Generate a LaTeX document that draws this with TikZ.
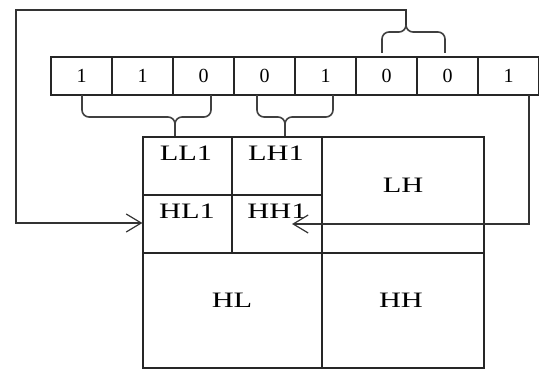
\documentclass[tikz,border=0pt]{standalone}
\usepackage{fontspec}
\setmainfont{Liberation Serif}
\newfontfamily\lblfont[FakeStretch=1.38]{Liberation Serif}
\usetikzlibrary{arrows.meta}
\tikzset{
  ln/.style={line width=1.2pt, draw=black!80},
  brc/.style={line width=1.6pt, draw=black!75},
  cellbox/.style={rectangle, draw=black!85, line width=1.2pt, inner sep=0pt},
  bitbox/.style={cellbox, minimum width=61pt, minimum height=38pt,
    font=\fontsize{20}{20}\selectfont},
  lbl/.style={inner sep=0pt, font=\lblfont\fontsize{22}{22}\selectfont},
  barb/.style={-{Straight Barb[length=15pt,width=18pt,line width=1.2pt]}},
}
\begin{document}
\begin{tikzpicture}[x=1pt,y=-1pt]
\useasboundingbox (0,0) rectangle (539,369);
% bit row
\foreach \v [count=\i] in {1,1,0,0,1,0,0,1}{
  \node[bitbox] (b\i) at (51+61*\i-30.5,76) {\v};
}
% grid cells
\node[cellbox, minimum width=89pt, minimum height=58pt] (ll1) at (187.5,166) {};
\node[cellbox, minimum width=90pt, minimum height=58pt] (lh1) at (277,166) {};
\node[cellbox, minimum width=89pt, minimum height=58pt] (hl1) at (187.5,224) {};
\node[cellbox, minimum width=90pt, minimum height=58pt] (hh1) at (277,224) {};
\node[cellbox, minimum width=162pt, minimum height=116pt] (lh) at (403,195) {};
\node[cellbox, minimum width=179pt, minimum height=115pt] (hl) at (232.5,310.5) {};
\node[cellbox, minimum width=162pt, minimum height=115pt] (hh) at (403,310.5) {};
% labels
\node[lbl] (tll1) at (186,153) {LL1};
\node[lbl] (tlh1) at (276,153) {LH1};
\node[lbl] (thl1) at (187,211) {HL1};
\node[lbl] (thh1) at (277,211) {HH1};
\node[lbl] (tlh) at (403,185) {LH};
\node[lbl] (thl) at (232,300) {HL};
\node[lbl] (thh) at (401,300) {HH};
% lower brace 1 (bits 1-3 -> LL1)
\coordinate (c1) at (175,124);
\draw[brc] (82,95) -- (82,110) to[out=-90,in=180] (89,117) -- (168,117) to[out=0,in=90] (c1);
\draw[brc] (211,95) -- (211,110) to[out=-90,in=0] (204,117) -- (182,117) to[out=180,in=90] (c1);
\draw[brc] (c1) -- (ll1.north -| c1);
% lower brace 2 (bits 4-5 -> LH1)
\coordinate (c2) at (285,124);
\draw[brc] (257,95) -- (257,110) to[out=-90,in=180] (264,117) -- (278,117) to[out=0,in=90] (c2);
\draw[brc] (333,95) -- (333,110) to[out=-90,in=0] (326,117) -- (292,117) to[out=180,in=90] (c2);
\draw[brc] (c2) -- (lh1.north -| c2);
% top brace (bits 6-7)
\coordinate (c3) at (406,25);
\draw[brc] (382,53) -- (382,39) to[out=90,in=180] (389,32) -- (399,32) to[out=0,in=-90] (c3);
\draw[brc] (445,53) -- (445,39) to[out=90,in=0] (438,32) -- (413,32) to[out=180,in=-90] (c3);
% feedback to HL1
\draw[ln, barb] (c3) -- (406,10) -- (16,10) -- (16,223) -- (hl1.west |- 0,223);
% feedback from bit 8 to HH1
\coordinate (c4) at (529,95);
\draw[ln, barb] (c4) -- (529,224) -- (292,224);
\end{tikzpicture}
\end{document}
